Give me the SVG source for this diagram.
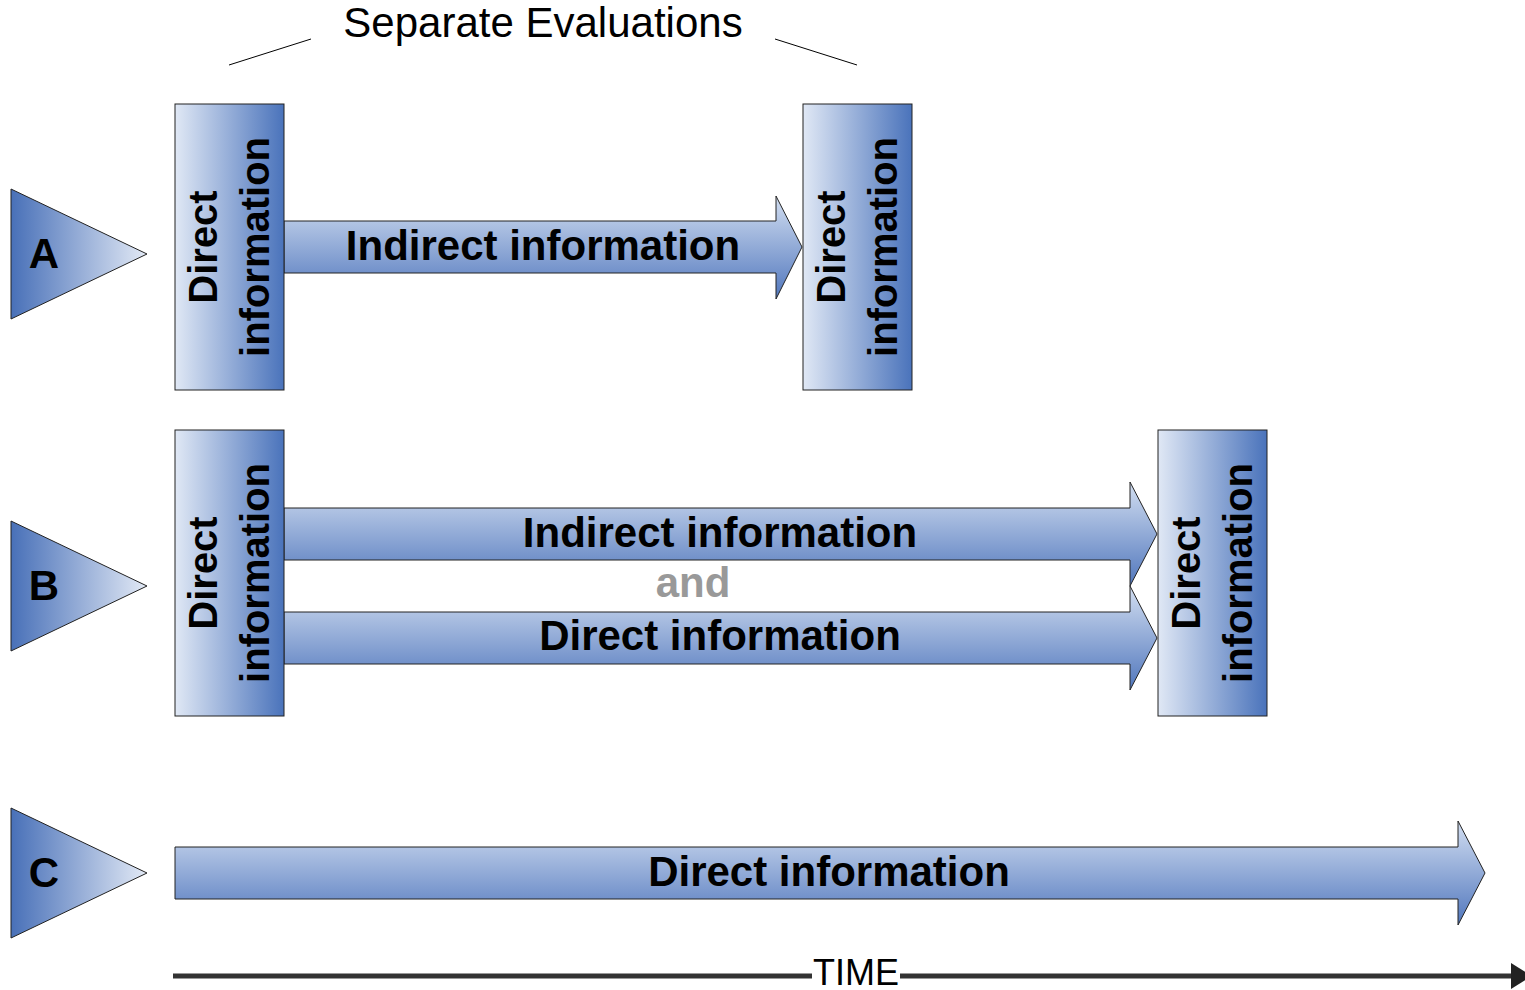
<svg xmlns="http://www.w3.org/2000/svg" width="1525" height="990" viewBox="0 0 1525 990">
  <defs>
    <linearGradient id="gTri" x1="0" y1="0" x2="1" y2="0">
      <stop offset="0" stop-color="#4870b8"/>
      <stop offset="1" stop-color="#e2e9f5"/>
    </linearGradient>
    <linearGradient id="gBox" x1="0" y1="0" x2="1" y2="0">
      <stop offset="0" stop-color="#e0e8f5"/>
      <stop offset="1" stop-color="#4a73bb"/>
    </linearGradient>
    <linearGradient id="gArrow" x1="0" y1="0" x2="0" y2="1">
      <stop offset="0" stop-color="#d2def1"/>
      <stop offset="1" stop-color="#5177bd"/>
    </linearGradient>
    <style>
      .tri { fill: url(#gTri); stroke: #222; stroke-width: 1; }
      .box { fill: url(#gBox); stroke: #222; stroke-width: 1; }
      .arrow { fill: url(#gArrow); stroke: #222; stroke-width: 1; }
      .bold { font-family: "Liberation Sans", Arial, sans-serif; font-weight: bold; fill: #000; }
      .lbl { font-size: 42px; text-anchor: middle; }
      .vert { font-size: 40px; text-anchor: middle; }
      .and { fill: #999999; }
      .reg { font-family: "Liberation Sans", Arial, sans-serif; fill: #000; text-anchor: middle; }
      .thin { stroke: #000; stroke-width: 1; fill: none; }
      .time { stroke: #333; stroke-width: 5; fill: none; }
    </style>
  </defs>

  <!-- header -->
  <g id="header">
    <text class="reg" x="543" y="37" font-size="42">Separate Evaluations</text>
    <line class="thin" x1="229" y1="65" x2="311" y2="39"/>
    <line class="thin" x1="775" y1="39" x2="857" y2="65"/>
  </g>

  <!-- row markers -->
  <g id="markerA">
    <polygon class="tri" points="11,189 147,254 11,319"/>
    <text class="bold lbl" x="44" y="268">A</text>
  </g>
  <g id="markerB">
    <polygon class="tri" points="11,521 147,586 11,651"/>
    <text class="bold lbl" x="44" y="600">B</text>
  </g>
  <g id="markerC">
    <polygon class="tri" points="11,808 147,873 11,938"/>
    <text class="bold lbl" x="44" y="887">C</text>
  </g>

  <!-- connectors -->
  <g id="connectors">
    <path class="arrow" d="M284,221 H776 V196 L802,247 L776,299 V273 H284 Z"/>
    <path class="arrow" d="M284,508 H1130 V482 L1157,534 L1130,586 V560 H284 Z"/>
    <path class="arrow" d="M284,612 H1130 V586 L1157,638 L1130,690 V664 H284 Z"/>
    <path class="arrow" d="M175,847 H1458 V821 L1485,873 L1458,925 V899 H175 Z"/>
    <text class="bold lbl" x="543" y="260">Indirect information</text>
    <text class="bold lbl" x="720" y="547">Indirect information</text>
    <text class="bold lbl and" x="693" y="597">and</text>
    <text class="bold lbl" x="720" y="650">Direct information</text>
    <text class="bold lbl" x="829" y="886">Direct information</text>
  </g>

  <!-- evaluation boxes -->
  <g id="boxA1">
    <rect class="box" x="175" y="104" width="109" height="286"/>
    <text class="bold vert" transform="translate(217,247) rotate(-90)">Direct</text>
    <text class="bold vert" transform="translate(269,247) rotate(-90)">information</text>
  </g>
  <g id="boxA2">
    <rect class="box" x="803" y="104" width="109" height="286"/>
    <text class="bold vert" transform="translate(845,247) rotate(-90)">Direct</text>
    <text class="bold vert" transform="translate(897,247) rotate(-90)">information</text>
  </g>
  <g id="boxB1">
    <rect class="box" x="175" y="430" width="109" height="286"/>
    <text class="bold vert" transform="translate(217,573) rotate(-90)">Direct</text>
    <text class="bold vert" transform="translate(269,573) rotate(-90)">information</text>
  </g>
  <g id="boxB2">
    <rect class="box" x="1158" y="430" width="109" height="286"/>
    <text class="bold vert" transform="translate(1200,573) rotate(-90)">Direct</text>
    <text class="bold vert" transform="translate(1252,573) rotate(-90)">information</text>
  </g>

  <!-- time axis -->
  <g id="timeAxis">
    <line class="time" x1="173" y1="976" x2="812" y2="976"/>
    <line class="time" x1="900" y1="976" x2="1514" y2="976"/>
    <polygon points="1511,963 1532,976 1511,989" fill="#222"/>
    <text class="reg" x="856" y="985" font-size="36">TIME</text>
  </g>
</svg>
